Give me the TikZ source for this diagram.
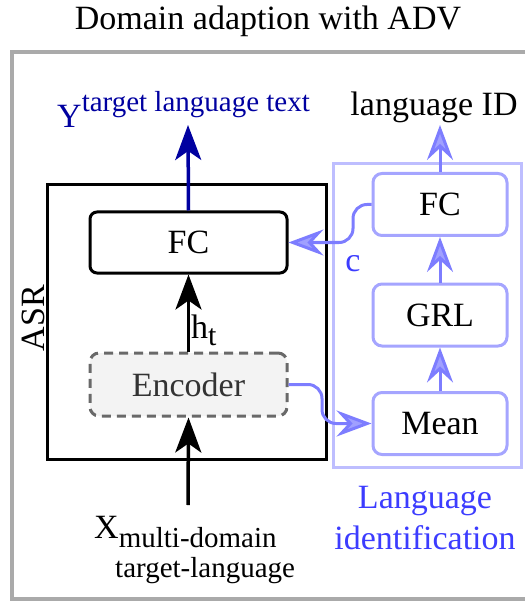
\documentclass[tikz,border=0pt]{standalone}
\usepackage{fontspec}
\setmainfont{Liberation Serif}
\newfontfamily\tms{Liberation Serif}
\usetikzlibrary{arrows.meta,calc}
\definecolor{framegray}{RGB}{170,170,170}
\definecolor{ydark}{RGB}{0,0,160}
\definecolor{lidbox}{RGB}{190,190,255}
\definecolor{lidnode}{RGB}{165,165,255}
\definecolor{lidarrow}{RGB}{125,125,255}
\definecolor{lidfill}{RGB}{160,160,255}
\definecolor{lidtext}{RGB}{60,60,255}
\definecolor{encfill}{RGB}{243,243,243}
\definecolor{encdraw}{RGB}{105,105,105}
\tikzset{
  big/.style={font=\tms\fontsize{34}{38}\selectfont},
  asrbox/.style={draw=black, line width=3pt, rounded corners=7pt, minimum width=197pt, minimum height=61pt, inner sep=0pt, big},
  encbox/.style={draw=encdraw, dashed, dash pattern=on 9pt off 6pt, line width=3pt, fill=encfill, rounded corners=9pt, minimum width=197pt, minimum height=63pt, inner sep=0pt, big, text=black!80},
  lidnodebox/.style={draw=lidnode, line width=3pt, rounded corners=9pt, minimum width=134pt, minimum height=62pt, inner sep=0pt, big},
  blackarr/.style={line width=3.5pt, -{Stealth[length=35pt,width=26pt,inset=9pt]}},
  lidarr/.style={draw=lidarrow, line width=3pt, -{Stealth[length=35pt,width=26pt,inset=12pt,fill=lidfill]}},
  lbl/.style={inner sep=0pt, big},
}
\begin{document}
\begin{tikzpicture}[x=1pt,y=-1pt]
\useasboundingbox (0,0) rectangle (524,601);
% outer gray frame
\draw[framegray, line width=3.5pt] (12,52) rectangle (540,599);
% title
\node[lbl, anchor=base] (title) at (268,30) {Domain adaption with ADV};
% ASR box
\draw[line width=3pt] (47,185) rectangle (326,459);
\node[lbl, rotate=90, anchor=base] (asr) at (44,318) {ASR};
% ASR FC
\node[asrbox] (fc) at (188.5,242.5) {FC};
% Encoder
\node[encbox] (enc) at (188.5,384.5) {Encoder};
% input
\coordinate (xin) at (188,505);
\draw[blackarr] (xin) -- (enc.south);
\draw[blackarr] (enc.north) -- (fc.south);
\node[lbl, anchor=base west] (ht) at (191,338) {h\raisebox{-7pt}{\fontsize{30}{30}\selectfont t}};
% output Y
\coordinate (yout) at (188,125);
\draw[blackarr, ydark] (fc.north) -- (yout);
\node[lbl, anchor=base west, text=ydark] (ylab) at (57,128) {Y\raisebox{16pt}{\fontsize{29}{30}\selectfont target language text}};
% X label
\node[lbl, anchor=base west] (xlab) at (94,538) {X\raisebox{-9pt}{\fontsize{29}{30}\selectfont multi-domain}};
\node[lbl, anchor=base west, font=\tms\fontsize{29}{30}\selectfont] (xlab2) at (115,577) {target-language};
% language identification box
\draw[lidbox, line width=3pt] (333,164) rectangle (521,467);
\node[lidnodebox] (lfc) at (440,204.5) {FC};
\node[lidnodebox] (grl) at (440,315) {GRL};
\node[lidnodebox] (mean) at (440,423.5) {Mean};
\coordinate (lidout) at (440,125);
\draw[lidarr] (mean.north) -- (grl.south);
\draw[lidarr] (grl.north) -- (lfc.south);
\draw[lidarr] (lfc.north) -- (lidout);
\node[lbl, anchor=base] (lidlab) at (434,116) {language ID};
% curved connectors
\draw[lidarr, rounded corners=14pt] (enc.east) -- (322,384.5) -- (322,423.5) -- (mean.west);
\draw[lidarr, rounded corners=14pt] (lfc.west) -- (353,204.5) -- (353,242.5) -- (fc.east);
\node[lbl, text=lidtext] (clab) at (353,264) {c};
\node[lbl, text=lidtext, anchor=base] (lidname1) at (425,508) {Language};
\node[lbl, text=lidtext, anchor=base] (lidname2) at (425,549) {identification};
\end{tikzpicture}
\end{document}
